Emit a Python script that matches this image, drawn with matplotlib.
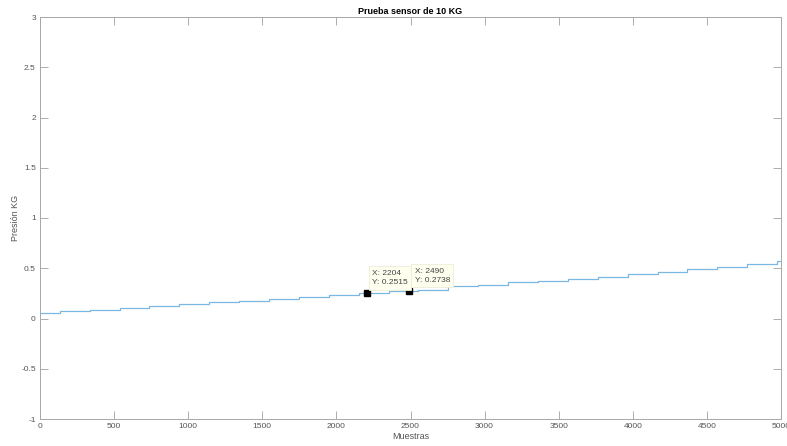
import matplotlib.pyplot as plt
import numpy as np

plt.rcParams['font.family'] = ['Liberation Sans', 'DejaVu Sans']

# Sensor readings: the signal is flat between steps, so keep the sample where
# each step happens and the level that follows it
step_x = [133, 335, 537, 738, 940, 1142, 1343, 1545, 1747, 1948, 2150, 2352, 2553,
          2755, 2957, 3158, 3360, 3562, 3764, 3965, 4167, 4369, 4570, 4772, 4974]
levels = [0.059, 0.078, 0.088, 0.101, 0.120, 0.140, 0.160, 0.176, 0.194, 0.212,
          0.235, 0.2515, 0.2738, 0.288, 0.320, 0.336, 0.359, 0.377, 0.392, 0.412,
          0.441, 0.463, 0.490, 0.516, 0.542, 0.575]

# Data tips
tip_x = [2204, 2490]
tip_y = [0.2515, 0.2738]

x_ticks = np.arange(0, 5001, 500)
y_ticks = np.arange(-1, 3.01, 0.5)

edges = [1] + step_x + [5000]
vals = levels + [levels[-1]]

fig = plt.figure(figsize=(7.87, 4.46), dpi=100)
ax = fig.add_axes([40 / 787, 27 / 446, 741 / 787, 402 / 446])

ax.step(edges, vals, where='post', color='#7ab8e4', linewidth=0.9)

# Data tip markers and boxes
for tx, ty in zip(tip_x, tip_y):
    ax.plot(tx, ty, 's', color='black', markersize=4)
    ax.annotate(f'X: {tx}\nY: {ty}', xy=(tx, ty), xytext=(4, 5),
                textcoords='offset points', ha='left', va='bottom',
                fontsize=6, color='#444444', linespacing=1.5,
                bbox=dict(boxstyle='square,pad=0.4', fc='#fffff0',
                          ec='#ececd6', lw=0.6))

ax.set_xlim(0, 5000)
ax.set_ylim(-1, 3)
ax.set_xticks(x_ticks)
ax.set_yticks(y_ticks)
ax.set_yticklabels([f'{v:g}' for v in y_ticks])

ax.tick_params(direction='in', length=6, width=0.6, colors='#a0a0a0',
               labelcolor='#555555', labelsize=6, top=True, right=True, pad=3)
for s in ax.spines.values():
    s.set_color('#a8a8a8')
    s.set_linewidth(0.7)

ax.set_title('Prueba sensor de 10 KG', fontsize=6.5, fontweight='bold', pad=2)
ax.set_xlabel('Muestras', fontsize=6.5, color='#555555', labelpad=1)
ax.set_ylabel('Presión KG', fontsize=6.5, color='#555555', labelpad=1)

fig.savefig('out.png', dpi=100)
